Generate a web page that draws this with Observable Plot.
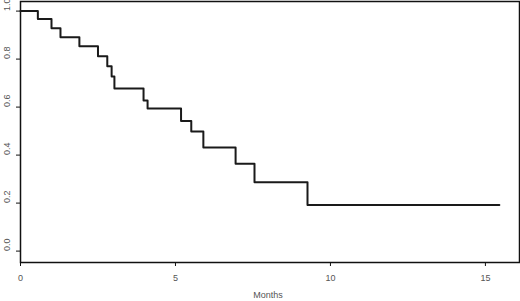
<!DOCTYPE html>
<html>
<head>
<meta charset="utf-8">
<script src="https://cdn.jsdelivr.net/npm/d3@7"></script>
<script src="https://cdn.jsdelivr.net/npm/@observablehq/plot@0.6"></script>
<style>
  html, body { margin: 0; padding: 0; background: #fff; }
  #chart svg { display: block; }
</style>
</head>
<body>
<div id="chart"></div>
<script>
// Step-function survival curve (Kaplan–Meier style)
const months   = [0, 0.56, 1.0, 1.29, 1.90, 2.50, 2.80, 2.94, 3.03, 3.97, 4.10, 5.18, 5.51, 5.90, 6.94, 7.55, 9.26, 15.45];
const survival = [1.0, 0.967, 0.929, 0.891, 0.854, 0.812, 0.770, 0.728, 0.678, 0.628, 0.594, 0.542, 0.498, 0.432, 0.364, 0.287, 0.192, 0.192];
const xTicks = [0, 5, 10, 15];
const yTicks = [0, 0.2, 0.4, 0.6, 0.8, 1.0];
const xLabel = "Months";

const data = months.map((m, i) => ({month: m, surv: survival[i]}));
const font = "Liberation Sans, Arial, sans-serif";

const chart = Plot.plot({
  width: 520,
  height: 301,
  marginLeft: 20,
  marginRight: 1,
  marginTop: 1,
  marginBottom: 39,
  style: {fontFamily: font, fontSize: "9px", background: "#fff", color: "#444"},
  x: {domain: [0, 16.1]},
  y: {domain: [-0.0475, 1.04]},
  marks: [
    Plot.frame({stroke: "#111", strokeWidth: 1.5}),
    Plot.axisX(xTicks, {tickSize: 4, tickPadding: 8, stroke: "#111", fill: "#555", label: null, fontSize: 9}),
    Plot.axisY(yTicks, {tickSize: 4, stroke: "#111", tickFormat: () => "", label: null}),
    Plot.text(yTicks, {
      y: d => d,
      frameAnchor: "left",
      dx: -13,
      rotate: -90,
      text: d3.format(".1f"),
      fill: "#555",
      fontSize: 9
    }),
    Plot.text([xLabel], {
      frameAnchor: "bottom",
      dy: 35,
      dx: -2,
      text: d => d,
      fill: "#555",
      fontSize: 9
    }),
    Plot.line(data, {x: "month", y: "surv", curve: "step-after", stroke: "#1a1a1a", strokeWidth: 2})
  ]
});
document.getElementById("chart").append(chart);
</script>
</body>
</html>
